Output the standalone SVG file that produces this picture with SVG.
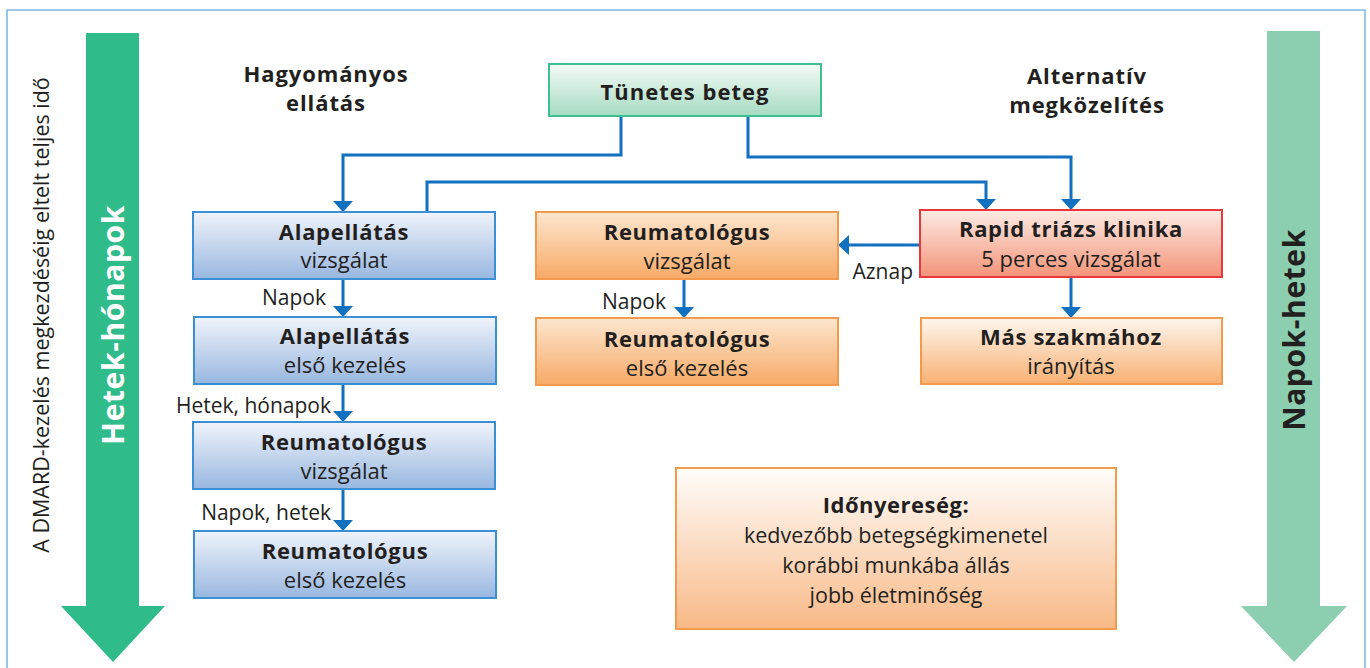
<svg xmlns="http://www.w3.org/2000/svg" width="1370" height="668" viewBox="0 0 1370 668">
<defs>
<linearGradient id="gGreen" x1="0" y1="0" x2="0" y2="1"><stop offset="0" stop-color="#f4fbf7"/><stop offset="1" stop-color="#a6dbc2"/></linearGradient>
<linearGradient id="gBlue" x1="0" y1="0" x2="0" y2="1"><stop offset="0" stop-color="#f0f4fb"/><stop offset="1" stop-color="#98b7e0"/></linearGradient>
<linearGradient id="gOrange" x1="0" y1="0" x2="0" y2="1"><stop offset="0" stop-color="#fde6cf"/><stop offset="1" stop-color="#f7aa66"/></linearGradient>
<linearGradient id="gOrangeL" x1="0" y1="0" x2="0" y2="1"><stop offset="0" stop-color="#fff6ee"/><stop offset="1" stop-color="#f8b173"/></linearGradient>
<linearGradient id="gRed" x1="0" y1="0" x2="0" y2="1"><stop offset="0" stop-color="#fdebe4"/><stop offset="1" stop-color="#f39479"/></linearGradient>
<linearGradient id="gGain" x1="0" y1="0" x2="0" y2="1"><stop offset="0" stop-color="#fffdfb"/><stop offset="1" stop-color="#f8b987"/></linearGradient>
<marker id="ah" viewBox="0 0 11 20" refX="0" refY="10" markerWidth="11" markerHeight="20" markerUnits="userSpaceOnUse" orient="auto">
<path d="M0,0 L11,10 L0,20 Z" fill="#1170bf"/>
</marker>
</defs>
<style>
text{font-family:"Open Sans","Noto Sans",sans-serif;fill:#231f20;}
.t{font-size:22px;font-weight:700;text-anchor:middle;letter-spacing:0.7px;}
.s{font-size:22px;text-anchor:middle;}
.h{font-size:22px;font-weight:700;text-anchor:middle;letter-spacing:0.9px;}
.l{font-size:21px;text-anchor:end;}
.c{fill:none;stroke:#1170bf;stroke-width:3;marker-end:url(#ah);}
.blue{fill:url(#gBlue);stroke:#3b8fd4;stroke-width:2;}
.or{fill:url(#gOrange);stroke:#f39a4c;stroke-width:2;}
.orl{fill:url(#gOrangeL);stroke:#f39a4c;stroke-width:2;}
</style>
<rect x="0" y="0" width="1370" height="668" fill="#ffffff"/>
<!-- frame -->
<path d="M7,668 V10 H1365 V668" fill="none" stroke="#82b8e6" stroke-width="1.6"/>

<!-- time arrows -->
<g id="arrow-left">
<path d="M86,33 H139 V606 H165 L113,662 L61,606 H86 Z" fill="#2fbb8a"/>
<text transform="translate(113,325) rotate(-90)" dy="0.36em" style="font-size:30px;font-weight:700;fill:#ffffff;text-anchor:middle;letter-spacing:0.6px">Hetek-hónapok</text>
</g>
<g id="arrow-right">
<path d="M1267,31 H1320 V606 H1347 L1294,662 L1241,606 H1267 Z" fill="#8ccfb0"/>
<text transform="translate(1294,330) rotate(-90)" dy="0.36em" style="font-size:30px;font-weight:700;text-anchor:middle;letter-spacing:0.6px">Napok-hetek</text>
</g>
<g id="axis-label">
<text transform="translate(41,315) rotate(-90)" dy="0.36em" style="font-size:21.5px;text-anchor:middle">A DMARD-kezelés megkezdéséig eltelt teljes idő</text>
</g>

<!-- headers -->
<g id="header-left">
<text class="h" x="326" y="82">Hagyományos</text>
<text class="h" x="326" y="111">ellátás</text>
</g>
<g id="header-right">
<text class="h" x="1087" y="84">Alternatív</text>
<text class="h" x="1087" y="113">megközelítés</text>
</g>

<!-- connectors -->
<g id="connectors">
<path class="c" d="M621,116 V155 H343 V201"/>
<path class="c" d="M748,116 V157 H1071 V199"/>
<path class="c" d="M427,212 V182 H986 V199"/>
<path class="c" d="M343,279 V306"/>
<path class="c" d="M343,384 V411"/>
<path class="c" d="M343,489 V520"/>
<path class="c" d="M684,279 V307"/>
<path class="c" d="M1071,277 V307"/>
<path class="c" d="M920,245 H849"/>
<text class="l" x="326" y="305">Napok</text>
<text class="l" x="331" y="413">Hetek, hónapok</text>
<text class="l" x="331" y="520">Napok, hetek</text>
<text class="l" x="666" y="309">Napok</text>
<text class="l" x="913" y="279">Aznap</text>
</g>

<!-- nodes -->
<g id="tunetes-beteg">
<rect x="549" y="64" width="272" height="52" fill="url(#gGreen)" stroke="#3dbf8f" stroke-width="2"/>
<text class="t" x="685" y="100" style="font-size:22px;letter-spacing:1px">Tünetes beteg</text>
</g>
<g id="alapellatas-vizsgalat">
<rect class="blue" x="193" y="212" width="302" height="67"/>
<text class="t" x="344" y="240">Alapellátás</text>
<text class="s" x="344" y="268">vizsgálat</text>
</g>
<g id="alapellatas-kezeles">
<rect class="blue" x="194" y="317" width="302" height="67"/>
<text class="t" x="345" y="344">Alapellátás</text>
<text class="s" x="345" y="373">első kezelés</text>
</g>
<g id="reuma-vizsgalat-left">
<rect class="blue" x="193" y="422" width="302" height="67"/>
<text class="t" x="344" y="450">Reumatológus</text>
<text class="s" x="344" y="479">vizsgálat</text>
</g>
<g id="reuma-kezeles-left">
<rect class="blue" x="194" y="531" width="302" height="67"/>
<text class="t" x="345" y="559">Reumatológus</text>
<text class="s" x="345" y="588">első kezelés</text>
</g>
<g id="reuma-vizsgalat-mid">
<rect class="or" x="536" y="212" width="302" height="67"/>
<text class="t" x="687" y="240">Reumatológus</text>
<text class="s" x="687" y="269">vizsgálat</text>
</g>
<g id="reuma-kezeles-mid">
<rect class="or" x="536" y="318" width="302" height="67"/>
<text class="t" x="687" y="347">Reumatológus</text>
<text class="s" x="687" y="376">első kezelés</text>
</g>
<g id="rapid-triazs">
<rect x="920" y="210" width="302" height="67" fill="url(#gRed)" stroke="#e8383d" stroke-width="2"/>
<text class="t" x="1071" y="237">Rapid triázs klinika</text>
<text class="s" x="1071" y="267">5 perces vizsgálat</text>
</g>
<g id="mas-szakma">
<rect class="orl" x="921" y="318" width="301" height="66"/>
<text class="t" x="1071" y="345">Más szakmához</text>
<text class="s" x="1071" y="374">irányítás</text>
</g>
<g id="idonyereseg">
<rect x="676" y="468" width="440" height="161" fill="url(#gGain)" stroke="#f39a4c" stroke-width="2"/>
<text class="t" x="896" y="513" style="font-size:22px;letter-spacing:0.5px">Időnyereség:</text>
<text class="s" x="896" y="543" style="font-size:21.5px">kedvezőbb betegségkimenetel</text>
<text class="s" x="896" y="573" style="font-size:21.5px">korábbi munkába állás</text>
<text class="s" x="896" y="603" style="font-size:21.5px">jobb életminőség</text>
</g>
</svg>
